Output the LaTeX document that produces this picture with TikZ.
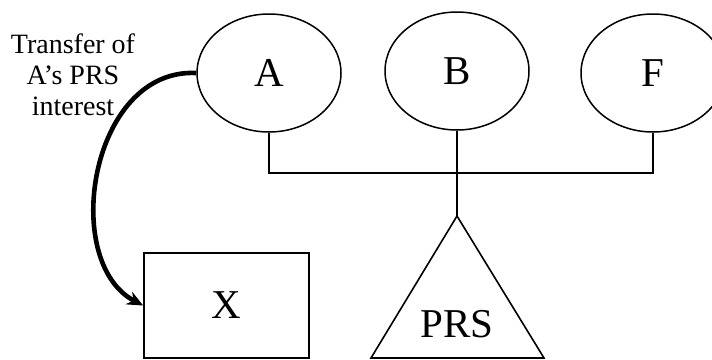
\documentclass[tikz,border=0pt]{standalone}
\usepackage{fontspec}
\setmainfont{Liberation Serif}
\usetikzlibrary{shapes.geometric,arrows.meta}
\begin{document}
\begin{tikzpicture}[x=1pt,y=-1pt,
  party/.style={ellipse,draw,line width=1.5pt,minimum width=144pt,minimum height=118pt,inner sep=0pt,font=\fontsize{41}{44}\selectfont},
  boxnode/.style={rectangle,draw,line width=1.7pt,minimum width=165pt,minimum height=105pt,inner sep=0pt,font=\fontsize{41}{44}\selectfont},
  link/.style={line width=1.6pt},
  transfer/.style={line width=4.6pt,-{Stealth[length=16pt,width=14pt]}}]
\useasboundingbox (0,0) rectangle (712,359);
\node[party] (A) at (269,73) {A};
\node[party] (B) at (457,71) {B};
\node[party] (F) at (653,73) {F};
\node[boxnode] (X) at (226.5,305.5) {X};
\coordinate (apex) at (457,216);
\coordinate (bl) at (371,358);
\coordinate (br) at (544,358);
\draw[link] (apex) -- (bl) -- (br) -- cycle;
\node[font=\fontsize{41}{44}\selectfont,inner sep=0pt] (PRS) at (457,324) {PRS};
\coordinate (jn) at (457,173);
\draw[link] (A.south) -- (A.south |- jn) -- (F.south |- jn) -- (F.south);
\draw[link] (B.south) -- (apex);
\node[align=center,inner sep=0pt,font=\fontsize{28}{31}\selectfont] (lbl) at (73,75) {Transfer of\\A’s PRS\\interest};
\draw[transfer] (A.west) .. controls (90,68) and (60,262) .. (X.west);
\end{tikzpicture}
\end{document}
